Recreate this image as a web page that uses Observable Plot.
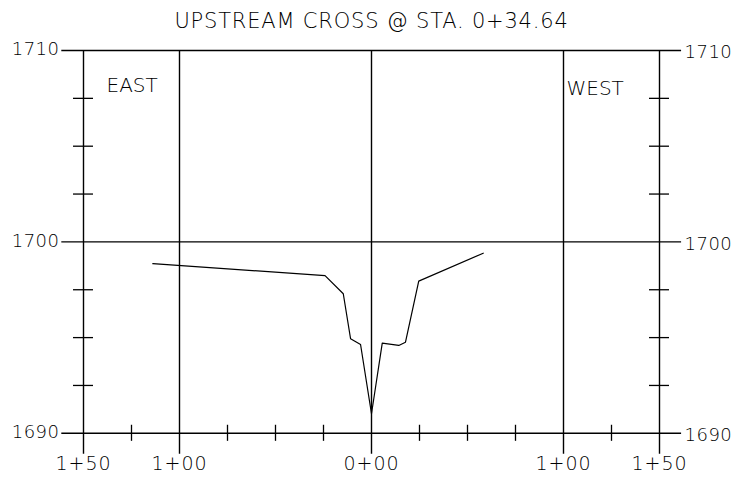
<!DOCTYPE html>
<html>
<head>
<meta charset="utf-8">
<script src="https://cdn.jsdelivr.net/npm/d3@7"></script>
<script src="https://cdn.jsdelivr.net/npm/@observablehq/plot@0.6"></script>
<style>
  html, body { margin: 0; padding: 0; background: #fff; }
  svg text { font-family: "DejaVu Sans", sans-serif; font-weight: 200; }
</style>
</head>
<body>
<div id="chart"></div>
<script>
const title = "UPSTREAM CROSS @ STA. 0+34.64";
// Station offsets (ft, negative = east) and elevations (ft)
const offsets    = [-113.9, -24.2, -14.7, -10.9, -5.7, 0.0, 5.6, 14.2, 17.7, 24.6, 58.2];
const elevations = [1698.86, 1698.24, 1697.29, 1694.94, 1694.64, 1691.02, 1694.71, 1694.59, 1694.76, 1697.95, 1699.41];
// Axes
const xMajor = [-150, -100, 0, 100, 150];
const xLabels = ["1+50", "1+00", "0+00", "1+00", "1+50"];
const xMinor = [-125, -75, -50, -25, 25, 50, 75, 125];
const yMajor = [1690, 1700, 1710];
const yLabels = ["1690", "1700", "1710"];
const yMinor = [1692.5, 1695, 1697.5, 1702.5, 1705, 1707.5];
const sideLabels = ["EAST", "WEST"];

const profile = offsets.map((x, i) => ({x, y: elevations[i]}));

const plot = Plot.plot({
  width: 752,
  height: 477,
  marginTop: 0, marginBottom: 0, marginLeft: 0, marginRight: 0,
  style: {background: "#fff", color: "#000"},
  x: {domain: [-150, 150], range: [83, 659], axis: null},
  y: {domain: [1690, 1710], range: [432.8, 50], axis: null},
  marks: [
    // major horizontal lines
    Plot.ruleY(yMajor, {x1: -161.3, x2: 161.5, stroke: "#000", strokeWidth: 1.4}),
    // major vertical lines
    Plot.ruleX(xMajor, {y1: 1710, y2: 1688.9, stroke: "#000", strokeWidth: 1.4}),
    // minor x ticks on bottom line
    Plot.ruleX(xMinor, {y1: 1690.42, y2: 1689.58, stroke: "#000", strokeWidth: 1.3}),
    // minor y ticks on left and right frames
    Plot.ruleY(yMinor, {x1: -155.2, x2: -144.8, stroke: "#000", strokeWidth: 1.3}),
    Plot.ruleY(yMinor, {x1: 144.8, x2: 155.2, stroke: "#000", strokeWidth: 1.3}),
    // ground profile
    Plot.line(profile, {x: "x", y: "y", stroke: "#000", strokeWidth: 1.2}),
    // y labels
    Plot.text(yMajor, {x: -150, y: d => d, text: (d, i) => yLabels[i], textAnchor: "end", dx: -24, dy: -1, fontSize: 18, fill: "#000", className: "ylab"}),
    Plot.text(yMajor, {x: 150, y: d => d, text: (d, i) => yLabels[i], textAnchor: "start", dx: 25, dy: 2, fontSize: 18, fill: "#000", className: "ylab"}),
    // x labels
    Plot.text(xMajor, {x: d => d, y: 1690, text: (d, i) => xLabels[i], dy: 31, fontSize: 19, fill: "#000", className: "xlab"}),
    // side labels
    Plot.text([sideLabels[0]], {x: -150, y: 1710, text: d => d, textAnchor: "start", dx: 23, dy: 35.5, fontSize: 20, fill: "#000"}),
    Plot.text([sideLabels[1]], {x: 100, y: 1710, text: d => d, textAnchor: "start", dx: 3, dy: 38.5, fontSize: 20, fill: "#000"}),
    // title
    Plot.text([title], {x: 0, y: 1710, text: d => d, dy: -29.5, fontSize: 21, fill: "#000", className: "ttl"})
  ]
});
d3.select(plot).selectAll(".ttl text").style("letter-spacing", "0.8px");
d3.select(plot).selectAll(".xlab text").style("letter-spacing", "1px");
d3.select(plot).selectAll(".ylab text").style("letter-spacing", "0.5px");
document.getElementById("chart").appendChild(plot);
</script>
</body>
</html>
